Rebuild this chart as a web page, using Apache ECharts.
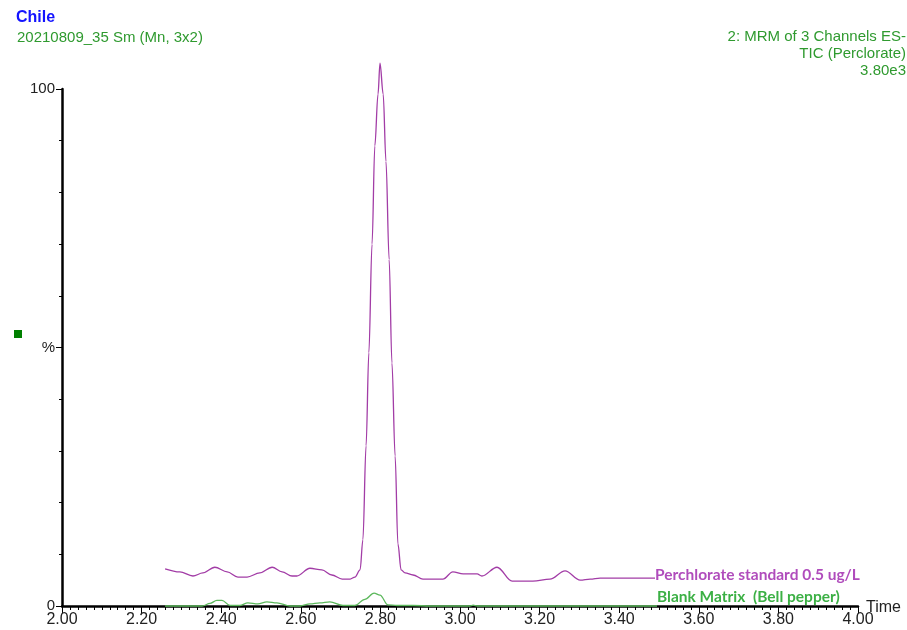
<!DOCTYPE html>
<html>
<head>
<meta charset="utf-8">
<script src="https://cdn.jsdelivr.net/npm/echarts@6/dist/echarts.min.js"></script>
<style>
  html, body { margin: 0; padding: 0; background: #fff; }
  #chart { width: 907px; height: 630px; }
</style>
</head>
<body>
<div id="chart"></div>
<script>
  // retention times (min) and relative intensity (%)
  var stdTime = [2.259, 2.296, 2.329, 2.354, 2.384, 2.415, 2.442, 2.465, 2.497, 2.528,
    2.553, 2.578, 2.590, 2.623, 2.653, 2.678, 2.704, 2.724, 2.736, 2.749,
    2.756, 2.764, 2.771, 2.779, 2.786, 2.794, 2.799, 2.807, 2.814, 2.822,
    2.829, 2.837, 2.844, 2.852, 2.862, 2.882, 2.907, 2.957, 2.982, 3.008,
    3.043, 3.055, 3.093, 3.131, 3.183, 3.226, 3.264, 3.302, 3.327, 3.352,
    3.402, 3.490]
  var stdValue = [7.2, 6.6, 5.8, 6.4, 7.5, 6.6, 5.6, 5.6, 6.4, 7.5,
    6.6, 5.8, 5.8, 7.3, 7.0, 6.0, 5.2, 5.2, 5.6, 7.0,
    12.8, 31, 49, 70, 89, 99, 105, 99, 86, 67,
    47, 29, 12, 7.0, 6.4, 6.0, 5.2, 5.2, 6.6, 6.2,
    6.2, 5.8, 7.5, 4.8, 4.8, 5.2, 6.8, 5.0, 5.2, 5.4,
    5.4, 5.4]

  var blankTime = [2.259, 2.352, 2.372, 2.389, 2.402, 2.422, 2.447, 2.467, 2.492, 2.515,
    2.540, 2.573, 2.598, 2.623, 2.648, 2.673, 2.706, 2.736, 2.761, 2.784,
    2.799, 2.819, 2.842, 2.882, 2.925, 3.025, 3.033, 3.043, 3.495]
  var blankValue = [0, 0, 0.5, 1.1, 1.1, 0.1, 0.1, 0.6, 0.4, 0.8,
    0.6, 0, 0, 0.4, 0.6, 0.8, 0.1, 0.1, 1.3, 2.5,
    2.1, 0.2, 0.1, 0.1, 0, 0, 0.15, 0, 0]

  var stdName = 'Perchlorate standard 0.5 ug/L'
  var blankName = 'Blank Matrix  (Bell pepper)'

  function pairs (xs, ys) {
    return xs.map(function (x, i) { return [x, ys[i]] })
  }

  var chart = echarts.init(document.getElementById('chart'))

  chart.setOption({
    animation: false,
    textStyle: { fontFamily: 'Liberation Sans, Arial, sans-serif' },
    title: [{
      text: 'Chile',
      left: 11,
      top: 5,
      textStyle: { color: '#1414ff', fontSize: 16, fontWeight: 'bold' }
    }, {
      text: '20210809_35 Sm (Mn, 3x2)',
      left: 12,
      top: 25,
      textStyle: { color: '#2f9a2f', fontSize: 15, fontWeight: 'normal' }
    }],
    graphic: [{
      type: 'text',
      x: 906,
      y: 28,
      style: {
        text: '2: MRM of 3 Channels ES-\nTIC (Perclorate)\n3.80e3',
        align: 'right',
        verticalAlign: 'top',
        fill: '#2f9a2f',
        font: '15px "Liberation Sans", Arial, sans-serif',
        lineHeight: 17
      }
    }, {
      // x axis title sits just past the axis end
      type: 'text',
      x: 866,
      y: 608,
      style: {
        text: 'Time',
        align: 'left',
        verticalAlign: 'middle',
        fill: '#222',
        font: '16px "Liberation Sans", Arial, sans-serif'
      }
    }, {
      type: 'rect',
      shape: { x: 14, y: 330, width: 8, height: 8 },
      style: { fill: '#008000' }
    }],
    grid: { left: 62, right: 49, top: 89, bottom: 24, outerBoundsMode: 'none' },
    xAxis: {
      type: 'value',
      min: 2,
      max: 4,
      interval: 0.2,
      axisLine: { lineStyle: { color: '#000', width: 2.5 } },
      axisTick: { length: 7, lineStyle: { color: '#000', width: 1 } },
      minorTick: { show: true, splitNumber: 10, length: 4, lineStyle: { color: '#000', width: 1 } },
      axisLabel: {
        color: '#222',
        fontSize: 16,
        margin: 6,
        formatter: function (v) { return v.toFixed(2) }
      },
      splitLine: { show: false }
    },
    yAxis: {
      type: 'value',
      min: 0,
      max: 100,
      interval: 50,
      axisLine: { show: true, lineStyle: { color: '#000', width: 2.5 } },
      axisTick: { length: 6, lineStyle: { color: '#000', width: 1 } },
      minorTick: { show: true, splitNumber: 5, length: 3, lineStyle: { color: '#000', width: 1 } },
      axisLabel: {
        color: '#222',
        fontSize: 15,
        margin: 7,
        formatter: function (v) { return v === 50 ? '%' : String(v) }
      },
      splitLine: { show: false }
    },
    series: [{
      name: stdName,
      type: 'line',
      data: pairs(stdTime, stdValue),
      smooth: 0.35,
      smoothMonotone: 'x',
      clip: false,
      showSymbol: false,
      lineStyle: { color: '#a23ca6', width: 1.3 },
      endLabel: {
        show: true,
        formatter: stdName,
        distance: 0,
        offset: [0, -3],
        color: '#b04cbc',
        fontFamily: 'Lato, sans-serif',
        fontWeight: 'bold',
        fontSize: 15.5
      }
    }, {
      name: blankName,
      type: 'line',
      data: pairs(blankTime, blankValue),
      smooth: 0.35,
      smoothMonotone: 'x',
      clip: false,
      showSymbol: false,
      lineStyle: { color: '#5cb85c', width: 1.3 },
      endLabel: {
        show: true,
        formatter: blankName,
        distance: 0,
        offset: [0, -9],
        color: '#3cb045',
        fontFamily: 'Lato, sans-serif',
        fontWeight: 'bold',
        fontSize: 15.5
      }
    }]
  })
</script>
</body>
</html>
